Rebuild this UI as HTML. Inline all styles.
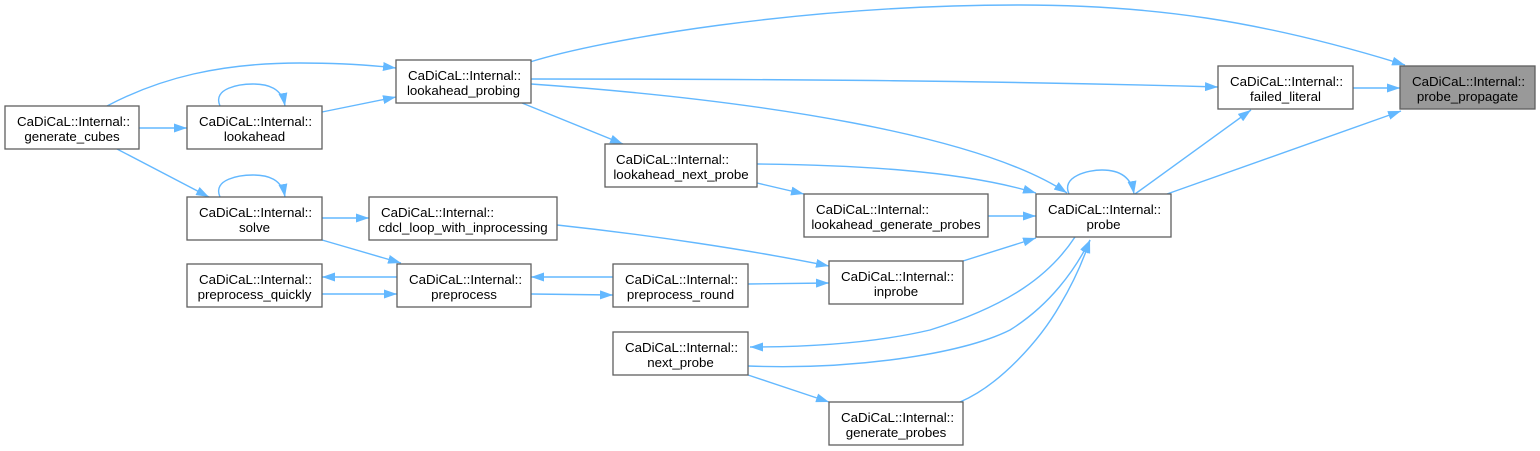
<!DOCTYPE html>
<html>
<head>
<meta charset="utf-8">
<style>
html,body{margin:0;padding:0;background:#fff;}
svg{display:block;}
text{font-family:"Liberation Sans",Arial,sans-serif;font-size:13.3px;fill:#000;}
.n{fill:#fff;stroke:#5f5f5f;stroke-width:1.3;}
.e{fill:none;stroke:#63b8ff;stroke-width:1.4;}
</style>
</head>
<body>
<svg width="1540" height="451" viewBox="0 0 1540 451" xmlns="http://www.w3.org/2000/svg">
<defs>
<marker id="a" markerUnits="userSpaceOnUse" viewBox="0 0 13 9" refX="13" refY="4.5" markerWidth="13" markerHeight="9" orient="auto">
<path d="M0,0 L13,4.5 L0,9 z" fill="#63b8ff"/>
</marker>
</defs>

<!-- edges -->
<g>
<path class="e" marker-end="url(#a)" d="M530,62 C600,40 800,5 1020,5 C1150,5 1260,20 1405,65"/>
<path class="e" marker-end="url(#a)" d="M531,79 C800,79 1000,81 1218,87"/>
<path class="e" marker-end="url(#a)" d="M531,84 C760,100 980,135 1067,193"/>
<path class="e" marker-end="url(#a)" d="M1353,88 L1400,88"/>
<path class="e" marker-end="url(#a)" d="M1167,194 L1401,111"/>
<path class="e" marker-end="url(#a)" d="M1135,194 L1251,110"/>
<path class="e" marker-end="url(#a)" d="M1069,194 C1061,176 1089,170 1102,170 C1117,170 1131,175 1134,194"/>
<path class="e" marker-end="url(#a)" d="M322,112 L396,97"/>
<path class="e" marker-end="url(#a)" d="M107,106 C160,78 220,63 300,63 C340,63 370,65 396,68"/>
<path class="e" marker-end="url(#a)" d="M139,128 L187,128"/>
<path class="e" marker-end="url(#a)" d="M117,149 L209,197"/>
<path class="e" marker-end="url(#a)" d="M220,106 C212,88 240,84 253,84 C268,84 282,88 285,106"/>
<path class="e" marker-end="url(#a)" d="M220,197 C212,179 240,175 253,175 C268,175 282,179 285,197"/>
<path class="e" marker-end="url(#a)" d="M322,218 L369,218"/>
<path class="e" marker-end="url(#a)" d="M322,240 L401,263"/>
<path class="e" marker-end="url(#a)" d="M397,277 L322,277"/>
<path class="e" marker-end="url(#a)" d="M322,294 L397,294"/>
<path class="e" marker-end="url(#a)" d="M613,277 L531,277"/>
<path class="e" marker-end="url(#a)" d="M531,294 L613,295"/>
<path class="e" marker-end="url(#a)" d="M557,225 C650,235 750,250 829,266"/>
<path class="e" marker-end="url(#a)" d="M748,284 L829,283"/>
<path class="e" marker-end="url(#a)" d="M963,261 L1036,238"/>
<path class="e" marker-end="url(#a)" d="M522,103 L623,144"/>
<path class="e" marker-end="url(#a)" d="M757,164 C850,165 960,170 1036,193"/>
<path class="e" marker-end="url(#a)" d="M757,183 L804,194"/>
<path class="e" marker-end="url(#a)" d="M988,216 L1036,216"/>
<path class="e" marker-end="url(#a)" d="M1075,237 C1050,275 1010,305 930,330 C870,344 800,347 750,347"/>
<path class="e" marker-end="url(#a)" d="M748,366 C850,370 960,355 1010,330 C1050,305 1075,270 1090,240"/>
<path class="e" marker-end="url(#a)" d="M960,402 C1000,385 1040,340 1060,305 C1075,280 1085,255 1090,240"/>
<path class="e" marker-end="url(#a)" d="M748,375 L829,402"/>
</g>

<!-- nodes -->
<rect class="n" x="5" y="106" width="134" height="43"/>
<text x="17" y="126">CaDiCaL::Internal::</text>
<text x="72" y="141" text-anchor="middle">generate_cubes</text>

<rect class="n" x="187" y="106" width="135" height="43"/>
<text x="199" y="126">CaDiCaL::Internal::</text>
<text x="254.5" y="141" text-anchor="middle">lookahead</text>

<rect class="n" x="396" y="60" width="135" height="43"/>
<text x="408" y="80">CaDiCaL::Internal::</text>
<text x="463.5" y="95" text-anchor="middle">lookahead_probing</text>

<rect class="n" x="187" y="197" width="135" height="43"/>
<text x="199" y="217">CaDiCaL::Internal::</text>
<text x="254.5" y="232" text-anchor="middle">solve</text>

<rect class="n" x="369" y="197" width="188" height="43"/>
<text x="381" y="217">CaDiCaL::Internal::</text>
<text x="463" y="232" text-anchor="middle">cdcl_loop_with_inprocessing</text>

<rect class="n" x="187" y="264" width="135" height="43"/>
<text x="199" y="284">CaDiCaL::Internal::</text>
<text x="254.5" y="299" text-anchor="middle">preprocess_quickly</text>

<rect class="n" x="397" y="264" width="134" height="43"/>
<text x="409" y="284">CaDiCaL::Internal::</text>
<text x="464" y="299" text-anchor="middle">preprocess</text>

<rect class="n" x="605" y="144" width="152" height="43"/>
<text x="616" y="164">CaDiCaL::Internal::</text>
<text x="681" y="179" text-anchor="middle">lookahead_next_probe</text>

<rect class="n" x="804" y="194" width="184" height="43"/>
<text x="816" y="214">CaDiCaL::Internal::</text>
<text x="896" y="229" text-anchor="middle">lookahead_generate_probes</text>

<rect class="n" x="613" y="264" width="135" height="43"/>
<text x="625" y="284">CaDiCaL::Internal::</text>
<text x="680.5" y="299" text-anchor="middle">preprocess_round</text>

<rect class="n" x="829" y="261" width="134" height="43"/>
<text x="841" y="281">CaDiCaL::Internal::</text>
<text x="896" y="296" text-anchor="middle">inprobe</text>

<rect class="n" x="613" y="332" width="135" height="43"/>
<text x="625" y="352">CaDiCaL::Internal::</text>
<text x="680.5" y="367" text-anchor="middle">next_probe</text>

<rect class="n" x="829" y="402" width="134" height="43"/>
<text x="841" y="422">CaDiCaL::Internal::</text>
<text x="896" y="437" text-anchor="middle">generate_probes</text>

<rect class="n" x="1036" y="194" width="135" height="43"/>
<text x="1048" y="214">CaDiCaL::Internal::</text>
<text x="1103.5" y="229" text-anchor="middle">probe</text>

<rect class="n" x="1218" y="66" width="135" height="43"/>
<text x="1230" y="86">CaDiCaL::Internal::</text>
<text x="1285.5" y="101" text-anchor="middle">failed_literal</text>

<rect class="n" x="1400" y="66" width="135" height="43" style="fill:#999999"/>
<text x="1412" y="86">CaDiCaL::Internal::</text>
<text x="1467.5" y="101" text-anchor="middle">probe_propagate</text>
</svg>
</body>
</html>
